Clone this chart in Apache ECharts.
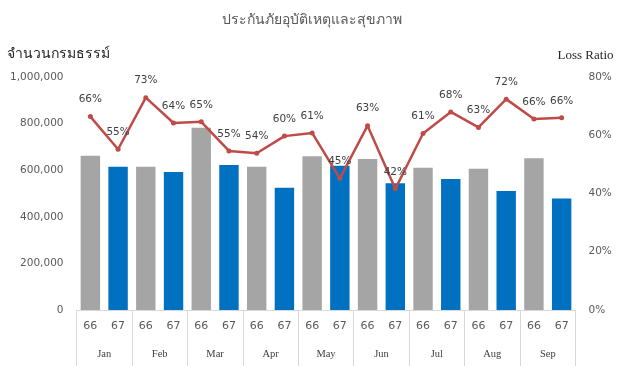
<!DOCTYPE html>
<html><head><meta charset="utf-8">
<script src="https://cdn.jsdelivr.net/npm/echarts@6/dist/echarts.min.js"></script>
<style>html,body{margin:0;padding:0;background:#fff}#c{width:624px;height:366px}</style>
</head><body><div id="c"></div>
<script>
const months = ['Jan','Feb','Mar','Apr','May','Jun','Jul','Aug','Sep'];
const years = ['66','67'];
const policies66 = [662000, 615000, 782000, 615000, 660000, 648000, 611000, 606000, 651000];
const policies67 = [615000, 592000, 622000, 525000, 619000, 544000, 562000, 511000, 479000];
const lossRatio = [66.4, 55.2, 72.9, 64.2, 64.6, 54.6, 53.8, 59.7, 60.8, 45.2, 63.3, 41.6, 60.6, 68.0, 62.7, 72.4, 65.6, 66.0];
const leftTicks = { min: 0, max: 1000000, interval: 200000 };
const rightTicks = { min: 0, max: 80, interval: 20 };

const cats = [];
const barData = [];
months.forEach((m, i) => {
  cats.push(years[0]);
  barData.push({ value: policies66[i], itemStyle: { color: '#A5A5A5' } });
  cats.push(years[1]);
  barData.push({ value: policies67[i], itemStyle: { color: '#0070C0' } });
});

const txt = '#595959';
const chart = echarts.init(document.getElementById('c'), null, { renderer: 'canvas' });
chart.setOption({
  animation: false,
  title: {
    text: 'ประกันภัยอุบัติเหตุและสุขภาพ',
    left: 'center', top: 8,
    textStyle: { fontSize: 14, fontWeight: 'normal', color: txt, fontFamily: 'Noto Sans, sans-serif' }
  },
  grid: { left: 76.5, right: 48.5, top: 77, bottom: 56 },
  xAxis: [
    {
      type: 'category', data: cats, position: 'bottom',
      axisLine: { show: true, lineStyle: { color: '#D9D9D9', width: 1 } },
      axisTick: { show: false },
      axisLabel: { color: txt, fontSize: 11, fontFamily: 'DejaVu Sans', margin: 11, interval: 0 }
    },
    {
      type: 'category', data: months, position: 'bottom',
      axisLine: { show: false },
      axisTick: { show: true, length: 58, lineStyle: { color: '#D9D9D9', width: 1 } },
      axisLabel: { color: '#404040', fontSize: 10.5, fontFamily: 'Liberation Serif', margin: 39, interval: 0 }
    }
  ],
  yAxis: [
    {
      type: 'value', min: leftTicks.min, max: leftTicks.max, interval: leftTicks.interval,
      name: 'จำนวนกรมธรรม์', nameLocation: 'end', nameGap: 16,
      nameTextStyle: { align: 'left', padding: [0, 0, 0, -70], fontSize: 14, color: '#262626', fontFamily: 'Noto Sans, sans-serif' },
      axisLine: { show: false }, axisTick: { show: false }, splitLine: { show: false },
      axisLabel: { color: txt, fontSize: 10.5, fontFamily: 'DejaVu Sans', margin: 13,
        formatter: v => v.toLocaleString('en-US') }
    },
    {
      type: 'value', min: rightTicks.min, max: rightTicks.max, interval: rightTicks.interval,
      name: 'Loss Ratio', nameLocation: 'end', nameGap: 15,
      nameTextStyle: { align: 'right', padding: [0, -38, 0, 0], fontSize: 13, color: '#262626', fontFamily: 'Liberation Serif' },
      axisLine: { show: false }, axisTick: { show: false }, splitLine: { show: false },
      axisLabel: { color: txt, fontSize: 10.5, fontFamily: 'DejaVu Sans', margin: 13, formatter: v => v + '%' }
    }
  ],
  series: [
    {
      type: 'bar', data: barData, xAxisIndex: 0, yAxisIndex: 0, barCategoryGap: '30%'
    },
    {
      type: 'line', data: lossRatio, xAxisIndex: 0, yAxisIndex: 1,
      symbol: 'circle', symbolSize: 5,
      lineStyle: { color: '#BE4B48', width: 2.5 }, itemStyle: { color: '#BE4B48' },
      label: { show: true, position: 'top', distance: 9, color: '#404040', fontSize: 10.5, fontFamily: 'DejaVu Sans',
        formatter: p => Math.round(p.value) + '%' },
      z: 5
    }
  ]
});
</script></body></html>
